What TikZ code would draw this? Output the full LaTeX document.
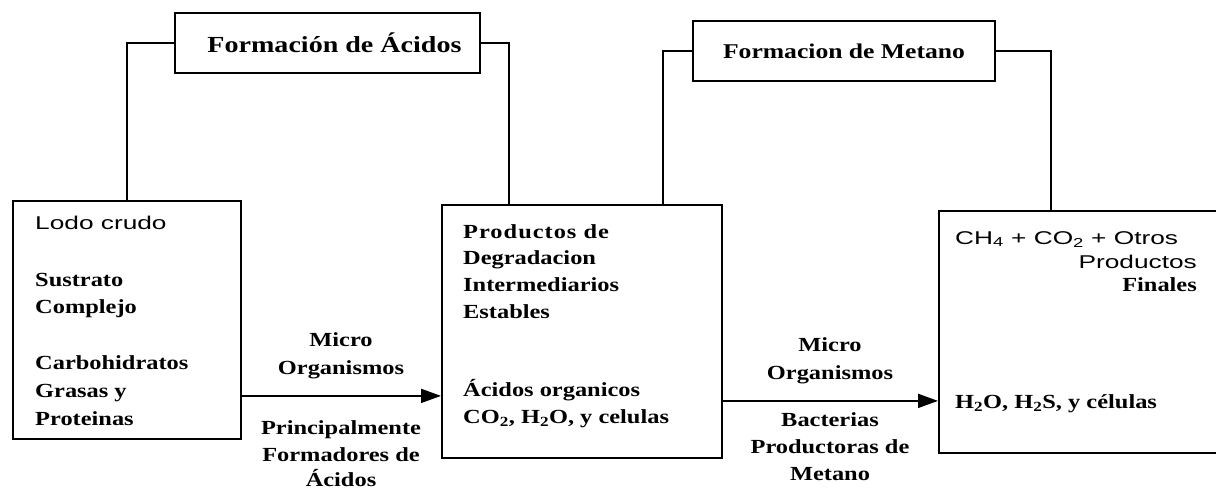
\documentclass[tikz,border=0pt]{standalone}
\usepackage{fontspec}
\setmainfont{Liberation Serif}[FakeStretch=1.22]
\newfontfamily\sfx{Liberation Sans}[FakeStretch=1.42]
\usetikzlibrary{arrows.meta}
\begin{document}
\begin{tikzpicture}[x=1pt,y=-1pt,
  box/.style={draw, line width=1.8pt, rectangle, inner sep=0pt, anchor=north west},
  ttl/.style={draw, line width=1.8pt, rectangle, inner sep=0pt, font=\fontsize{21}{25}\selectfont\bfseries},
  txt/.style={inner sep=0pt, anchor=base west, font=\fontsize{20}{28}\selectfont\bfseries},
  txtr/.style={txt, anchor=base east},
  lbl/.style={inner sep=0pt, anchor=base, font=\fontsize{20}{28}\selectfont\bfseries},
  stxt/.style={inner sep=0pt, anchor=base west, font=\fontsize{18.5}{28}\selectfont\sfx},
  stxtr/.style={stxt, anchor=base east},
  conn/.style={line width=1.5pt},
  arr/.style={line width=1.8pt, -{Triangle[length=20pt,width=14pt]}}
]
\useasboundingbox (0,0) rectangle (1216,488);

% main boxes
\node[box, minimum width=228pt, minimum height=238pt] (b1) at (12,200) {};
\node[box, minimum width=280pt, minimum height=253pt] (b2) at (441,204) {};
\node[box, minimum width=284pt, minimum height=242pt] (b3) at (938,210) {};

% title boxes
\node[ttl, minimum width=305pt, minimum height=60pt, font=\fontsize{23}{27}\selectfont\bfseries] (t1) at (327.5,43) {\hspace*{14pt}Formación de Ácidos};
\node[ttl, minimum width=302pt, minimum height=60pt] (t2) at (844,51) {Formacion de Metano};

% connectors
\draw[conn] (t1.west) -| (b1.north);
\draw[conn] (t1.east) -| ([xshift=68pt]b2.north west);
\draw[conn] (t2.west) -| ([xshift=222pt]b2.north west);
\draw[conn] (t2.east) -| ([xshift=113pt]b3.north west);

% arrows
\draw[arr] ([yshift=-76pt]b1.east) -- ([yshift=-76pt]b1.east -| b2.west);
\draw[arr] ([yshift=-69.5pt]b2.east) -- ([yshift=-69.5pt]b2.east -| b3.west);

% box 1 text
\node[stxt] (l1) at (35,229) {Lodo crudo};
\node[txt] (l2) at (35,286) {Sustrato};
\node[txt] (l3) at (35,313) {Complejo};
\node[txt] (l4) at (35,369) {Carbohidratos};
\node[txt] (l5) at (35,397) {Grasas y};
\node[txt] (l6) at (35,425) {Proteinas};

% box 2 text
\node[txt] (m1) at (463,238) {\addfontfeature{LetterSpace=5}Productos de};
\node[txt] (m2) at (463,264) {Degradacion};
\node[txt] (m3) at (463,291) {Intermediarios};
\node[txt] (m4) at (463,318) {Estables};
\node[txt] (m5) at (463,396) {Ácidos organicos};
\node[txt] (m6) at (463,423) {CO\textsubscript{2}, H\textsubscript{2}O, y celulas};

% box 3 text
\node[stxt] (r1) at (955,244) {CH\textsubscript{4} + CO\textsubscript{2} + Otros};
\node[stxtr] (r2) at (1197,268) {Productos};
\node[txtr] (r3) at (1197,291) {Finales};
\node[txt] (r4) at (955,408) {H\textsubscript{2}O, H\textsubscript{2}S, y células};

% arrow 1 labels
\node[lbl] (a1) at (341,346) {Micro};
\node[lbl] (a2) at (341,374) {Organismos};
\node[lbl] (a3) at (341,434) {Principalmente};
\node[lbl] (a4) at (341,461) {Formadores de};
\node[lbl] (a5) at (341,486) {Ácidos};

% arrow 2 labels
\node[lbl] (c1) at (830,351) {Micro};
\node[lbl] (c2) at (830,379) {Organismos};
\node[lbl] (c3) at (830,426) {Bacterias};
\node[lbl] (c4) at (830,453) {Productoras de};
\node[lbl] (c5) at (830,480) {Metano};
\end{tikzpicture}
\end{document}
